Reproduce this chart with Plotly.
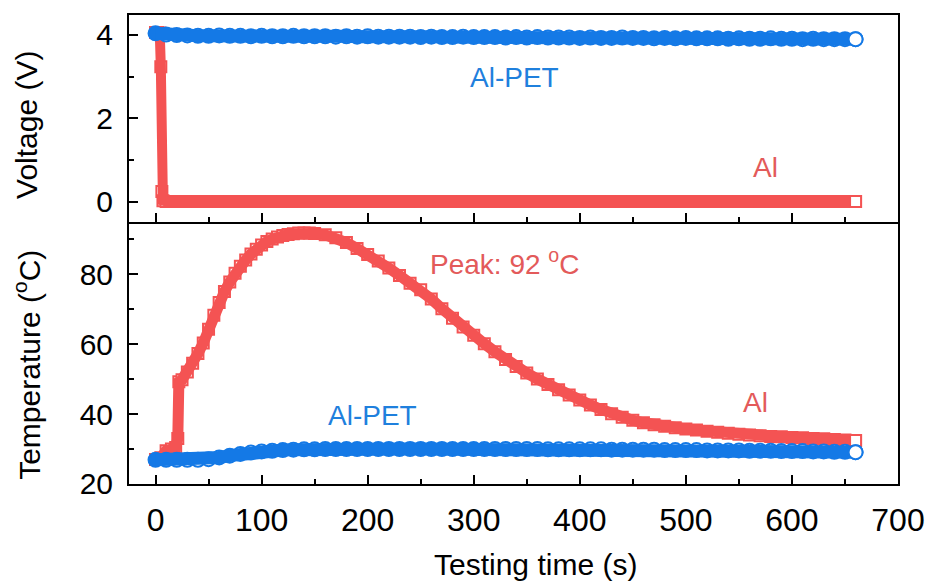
import plotly.graph_objects as go

# ---------------- data ----------------
RED = "#F45353"
BLUE = "#1479E6"
RED_TXT = "#E35A5A"
BLUE_TXT = "#1F80DD"

# Top panel: voltage
t_v_al = [0, 2, 4, 5, 6, 7, 10, 20, 30, 40, 50, 60, 70, 80, 90, 100, 110, 120, 130, 140,
          150, 160, 170, 180, 190, 200, 210, 220, 230, 240, 250, 260, 270, 280, 290, 300,
          310, 320, 330, 340, 350, 360, 370, 380, 390, 400, 410, 420, 430, 440, 450, 460,
          470, 480, 490, 500, 510, 520, 530, 540, 550, 560, 570, 580, 590, 600, 610, 620,
          630, 640, 650, 660]
v_al = [4.06, 4.06, 4.05, 3.24, 0.24, 0.02, 0.0, 0.0, 0.0, 0.0, 0.0, 0.0, 0.0, 0.0, 0.0, 0.0,
        0.0, 0.0, 0.0, 0.0, 0.0, 0.0, 0.0, 0.0, 0.0, 0.0, 0.0, 0.0, 0.0, 0.0, 0.0, 0.0,
        0.0, 0.0, 0.0, 0.0, 0.0, 0.0, 0.0, 0.0, 0.0, 0.0, 0.0, 0.0, 0.0, 0.0, 0.0, 0.0,
        0.0, 0.0, 0.0, 0.0, 0.0, 0.0, 0.0, 0.0, 0.0, 0.0, 0.0, 0.0, 0.0, 0.0, 0.0, 0.0,
        0.0, 0.0, 0.0, 0.0, 0.0, 0.0, 0.0, 0.0]

t_pet = list(range(0, 661, 10))
v_pet = [4.04, 4.01, 4.00, 3.99, 3.98, 3.98, 3.99, 3.98, 3.98, 3.97, 3.98, 3.97, 3.97, 3.98,
         3.97, 3.97, 3.97, 3.96, 3.97, 3.96, 3.97, 3.96, 3.96, 3.96, 3.96, 3.95, 3.96, 3.95,
         3.95, 3.96, 3.95, 3.95, 3.95, 3.94, 3.95, 3.94, 3.95, 3.94, 3.94, 3.94, 3.93, 3.94,
         3.93, 3.93, 3.94, 3.93, 3.93, 3.92, 3.93, 3.92, 3.93, 3.92, 3.92, 3.92, 3.91, 3.92,
         3.91, 3.91, 3.92, 3.91, 3.91, 3.90, 3.91, 3.90, 3.90, 3.90, 3.90]

# Bottom panel: temperature
t_T_al = [0, 5, 10, 15, 19, 21, 22, 25, 30, 35, 40, 45, 50, 55, 60, 65, 70, 75, 80, 85, 90,
          95, 100, 105, 110, 115, 120, 125, 130, 135, 140, 145, 150, 160, 170, 180, 190, 200,
          210, 220, 230, 240, 250, 260, 270, 280, 290, 300, 310, 320, 330, 340, 350, 360,
          370, 380, 390, 400, 410, 420, 430, 440, 450, 460, 470, 480, 490, 500, 510, 520,
          530, 540, 550, 560, 570, 580, 590, 600, 610, 620, 630, 640, 650, 660]
T_al = [27.0, 27.5, 29.5, 30.0, 30.4, 33.0, 49.2, 49.8, 52.0, 54.5, 57.3, 60.3, 64.2, 68.2,
        71.9, 75.0, 77.7, 80.2, 82.2, 84.0, 85.7, 87.1, 88.3, 89.3, 90.0, 90.6, 91.0, 91.3,
        91.5, 91.7, 91.75, 91.7, 91.6, 91.2, 90.4, 89.0, 87.3, 85.6, 83.7, 81.7, 79.6, 77.4,
        75.5, 72.9, 70.1, 67.4, 64.9, 62.5, 60.1, 57.8, 55.6, 53.6, 51.7, 50.0, 48.4, 46.9,
        45.4, 44.0, 42.6, 41.3, 40.1, 39.1, 38.2, 37.5, 36.9, 36.5, 36.1, 35.7, 35.4, 35.1,
        34.8, 34.5, 34.2, 34.0, 33.8, 33.6, 33.5, 33.3, 33.2, 33.0, 32.9, 32.7, 32.6, 32.4]

T_pet = [26.9, 26.9, 26.9, 26.9, 26.9, 27.1, 27.6, 28.1, 28.6, 29.0, 29.3, 29.5, 29.7, 29.8,
         29.9, 29.9, 30.0, 30.0, 30.0, 30.0, 30.0, 30.0, 30.0, 30.0, 30.0, 30.0, 30.0, 30.0,
         30.0, 30.0, 30.0, 30.0, 30.0, 30.0, 30.0, 30.0, 30.0, 29.9, 29.9, 29.9, 29.9, 29.9,
         29.9, 29.8, 29.8, 29.8, 29.8, 29.8, 29.7, 29.7, 29.7, 29.7, 29.6, 29.6, 29.6, 29.6,
         29.5, 29.5, 29.5, 29.4, 29.4, 29.4, 29.3, 29.3, 29.2, 29.2, 29.1]

x_ticks = [0, 100, 200, 300, 400, 500, 600, 700]

# ---------------- figure ----------------
fig = go.Figure()


def add_series(t, y, symbol, size, col, lw, xa, ya):
    n = len(t)
    fills = [col] + ["white"] * (n - 1)
    mk = dict(symbol=symbol, size=size, color=fills, line=dict(color=col, width=2))
    mk_end = dict(symbol=symbol, size=size, color="white", line=dict(color=col, width=2))
    fig.add_trace(go.Scatter(x=t, y=y, mode="markers", marker=mk, xaxis=xa, yaxis=ya,
                             showlegend=False, hoverinfo="skip"))
    fig.add_trace(go.Scatter(x=t, y=y, mode="lines", line=dict(color=col, width=lw),
                             xaxis=xa, yaxis=ya, showlegend=False, hoverinfo="skip"))
    fig.add_trace(go.Scatter(x=t[-1:], y=y[-1:], mode="markers", marker=mk_end, xaxis=xa,
                             yaxis=ya, showlegend=False, hoverinfo="skip"))


add_series(t_v_al, v_al, "square", 11, RED, 10, "x", "y")
add_series(t_pet, v_pet, "circle", 14, BLUE, 13, "x", "y")
add_series(t_T_al, T_al, "square", 11, RED, 11, "x2", "y2")
add_series(t_pet, T_pet, "circle", 14, BLUE, 13, "x2", "y2")

FONT = "Arial, Liberation Sans, sans-serif"
split = 0.5596


def xcfg(mirror):
    return dict(range=[-25, 700], tickvals=x_ticks, ticks="inside", ticklen=9, tickwidth=1.5,
                tickcolor="black", showline=True, linecolor="black", linewidth=2,
                mirror=mirror, showgrid=False, zeroline=False, automargin=False,
                minor=dict(ticks="inside", dtick=50, tick0=0, ticklen=5, tickwidth=1.5,
                           tickcolor="black", showgrid=False))


def ycfg(dom, rng, vals, mdt):
    return dict(domain=dom, range=rng, tickvals=vals, ticks="inside", ticklen=9,
                tickwidth=1.5, tickcolor="black", showline=True, linecolor="black",
                linewidth=2, mirror=True, showgrid=False, zeroline=False, automargin=False,
                tickfont=dict(size=30, family=FONT), ticklabelstandoff=8,
                minor=dict(ticks="inside", dtick=mdt, tick0=0, ticklen=5, tickwidth=1.5,
                           tickcolor="black", showgrid=False))


# the page body adds an 8px offset, so the figure is 8px smaller than the window
fig.update_layout(
    width=925, height=575,
    margin=dict(l=121, r=35, t=7, b=99),
    paper_bgcolor="white", plot_bgcolor="white",
    font=dict(family=FONT, color="black"),
    xaxis=dict(anchor="y", showticklabels=False, **xcfg(True)),
    xaxis2=dict(anchor="y2", showticklabels=True, ticklabelstandoff=7,
                tickfont=dict(size=32, family=FONT), **xcfg(False)),
    yaxis=ycfg([split, 1], [-0.48, 4.48], [0, 2, 4], 1),
    yaxis2=ycfg([0, split], [20, 95], [20, 40, 60, 80], 10),
)

annots = [
    dict(text="Al-PET", x=338, y=2.97, xref="x", yref="y", color=BLUE_TXT),
    dict(text="Al", x=575, y=0.83, xref="x", yref="y", color=RED_TXT),
    dict(text="Peak: 92 <sup>o</sup>C", x=329, y=83.5, xref="x2", yref="y2", color=RED_TXT),
    dict(text="Al", x=566, y=43.2, xref="x2", yref="y2", color=RED_TXT),
    dict(text="Al-PET", x=205, y=39.5, xref="x2", yref="y2", color=BLUE_TXT),
]
for a in annots:
    fig.add_annotation(text=a["text"], x=a["x"], y=a["y"], xref=a["xref"], yref=a["yref"],
                       showarrow=False, xanchor="center", yanchor="middle",
                       font=dict(size=28, color=a["color"], family=FONT))

# axis titles
fig.add_annotation(text="Voltage (V)", x=-0.1326, y=0.7656, xref="paper", yref="paper",
                   textangle=-90, showarrow=False, xanchor="center", yanchor="middle",
                   font=dict(size=30, family=FONT, color="black"))
fig.add_annotation(text="Temperature (<sup>o</sup>C)", x=-0.1326, y=0.2542, xref="paper",
                   yref="paper", textangle=-90, showarrow=False, xanchor="center",
                   yanchor="middle", font=dict(size=30, family=FONT, color="black"))
fig.add_annotation(text="Testing time (s)", x=0.529, y=-0.172, xref="paper", yref="paper",
                   showarrow=False, xanchor="center", yanchor="middle",
                   font=dict(size=30, family=FONT, color="black"))

fig.write_html("out.html")
